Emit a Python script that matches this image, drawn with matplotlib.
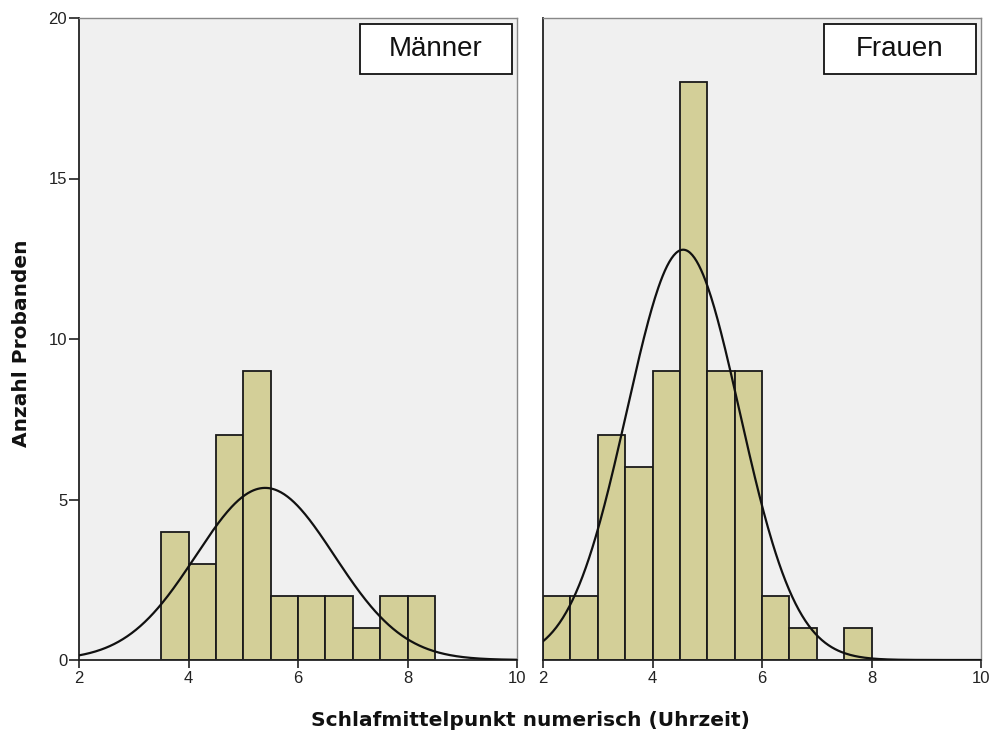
import numpy as np
import matplotlib
matplotlib.use('Agg')  # no display
import matplotlib.pyplot as plt
from matplotlib.patches import Rectangle

plt.rcParams['font.family'] = ['Liberation Sans', 'DejaVu Sans']

# histogram data, bin width 0.5 h
bin_width = 0.5
maenner_edges = [3.5, 4.0, 4.5, 5.0, 5.5, 6.0, 6.5, 7.0, 7.5, 8.0]
maenner_counts = [4, 3, 7, 9, 2, 2, 2, 1, 2, 2]
frauen_edges = [2.0, 2.5, 3.0, 3.5, 4.0, 4.5, 5.0, 5.5, 6.0, 6.5, 7.0, 7.5]
frauen_counts = [2, 2, 7, 6, 9, 18, 9, 9, 2, 1, 0, 1]

# fitted normal curves (mean, sd, n)
maenner_fit = (5.40, 1.265, 34)
frauen_fit = (4.56, 1.03, 66)

panels = [("Männer", maenner_edges, maenner_counts, maenner_fit),
          ("Frauen", frauen_edges, frauen_counts, frauen_fit)]

W, H = 990, 736
fig = plt.figure(figsize=(W / 100, H / 100), dpi=100)

bar_color = '#d3cf98'
bg = '#f0f0f0'
left_px = [79, 543]
ax_w = 438
top_px, bot_px = 18, 660

for i, (name, edges, counts, fit) in enumerate(panels):
    ax = fig.add_axes([left_px[i] / W, 1 - bot_px / H, ax_w / W, (bot_px - top_px) / H])
    ax.set_facecolor(bg)
    ax.bar(edges, counts, width=bin_width, align='edge', color=bar_color,
           edgecolor='#1a1a1a', linewidth=1.3, zorder=2)
    mu, sd, n = fit
    xs = np.linspace(2, 10, 400)
    ys = n * bin_width / (sd * np.sqrt(2 * np.pi)) * np.exp(-0.5 * ((xs - mu) / sd) ** 2)
    ax.plot(xs, ys, color='#111111', lw=1.6, zorder=3)

    ax.set_xlim(2, 10)
    ax.set_ylim(0, 20)
    ax.set_xticks([2, 4, 6, 8, 10])
    ax.tick_params(axis='x', direction='out', length=6, width=1.2, color='#222222',
                   labelsize=12, labelcolor='#222222', pad=2)
    if i == 0:
        ax.set_yticks([0, 5, 10, 15, 20])
        ax.tick_params(axis='y', direction='out', length=7.5, width=1.2, color='#222222',
                       labelsize=12, labelcolor='#222222', pad=1)
    else:
        ax.set_yticks([])
    for s in ['left', 'bottom']:
        ax.spines[s].set_color('#222222')
        ax.spines[s].set_linewidth(1.3)
    for s in ['top', 'right']:
        ax.spines[s].set_color('#888888')
        ax.spines[s].set_linewidth(1.0)

    # label box in the top right corner
    bx0, bx1 = 0.6416, 0.9886
    by0, by1 = 0.9128, 0.9907
    ax.add_patch(Rectangle((bx0, by0), bx1 - bx0, by1 - by0, transform=ax.transAxes,
                           facecolor='white', edgecolor='#111111', linewidth=1.3, zorder=5))
    ax.text((bx0 + bx1) / 2, (by0 + by1) / 2, name, transform=ax.transAxes,
            ha='center', va='center', fontsize=20, color='#111111', zorder=6)

fig.text(22 / W, 1 - 343 / H, "Anzahl Probanden", rotation=90, ha='center', va='center',
         fontsize=14.5, fontweight='bold', color='#111111', family='DejaVu Sans')
fig.text(530 / W, 1 - 720 / H, "Schlafmittelpunkt numerisch (Uhrzeit)", ha='center',
         va='center', fontsize=14.5, fontweight='bold', color='#111111', family='DejaVu Sans')

fig.savefig('out.png', dpi=100)
